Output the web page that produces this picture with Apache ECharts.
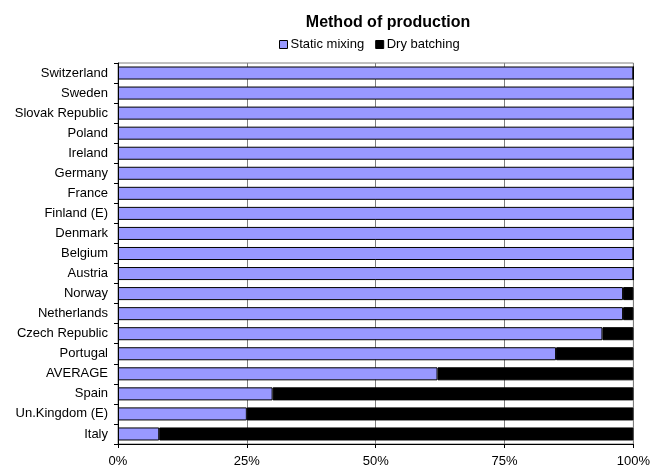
<!DOCTYPE html>
<html><head><meta charset="utf-8">
<script src="https://cdn.jsdelivr.net/npm/echarts@6/dist/echarts.min.js"></script>
<style>html,body{margin:0;padding:0;background:#fff}#c{width:653px;height:468px}</style>
</head><body><div id="c"></div>
<script>
var categories = ["Switzerland","Sweden","Slovak Republic","Poland","Ireland","Germany","France","Finland (E)","Denmark","Belgium","Austria","Norway","Netherlands","Czech Republic","Portugal","AVERAGE","Spain","Un.Kingdom (E)","Italy"];
var staticMixing = [100,100,100,100,100,100,100,100,100,100,100,98,98,94,85,62,30,25,8];
var dryBatching = [0,0,0,0,0,0,0,0,0,0,0,2,2,6,15,38,70,75,92];
var xTicks = [0,25,50,75,100];

var chart = echarts.init(document.getElementById('c'));
var font = 'Liberation Sans, Arial, sans-serif';
chart.setOption({
  animation:false,
  backgroundColor:'#fff',
  title:{text:'Method of production',left:383,top:10,textAlign:'center',
    textStyle:{fontFamily:font,fontSize:16,fontWeight:'bold',color:'#000'}},
  legend:{left:274,top:33,itemWidth:8,itemHeight:8,itemGap:11,icon:'rect',
    textStyle:{fontFamily:font,fontSize:13,color:'#000',padding:[0,0,0,-2]},
    data:[{name:'Static mixing',itemStyle:{borderColor:'#000',borderWidth:1}},{name:'Dry batching',itemStyle:{borderColor:'#000',borderWidth:1}}]},
  grid:{left:118,right:16,top:63,bottom:24,containLabel:false,show:true,borderColor:'#808080',borderWidth:1,backgroundColor:'transparent'},
  xAxis:{type:'value',min:xTicks[0],max:xTicks[xTicks.length-1],interval:25,
    axisLine:{show:true,lineStyle:{color:'#000'}},
    axisTick:{show:true,length:4,lineStyle:{color:'#000'}},
    axisLabel:{formatter:'{value}%',fontFamily:font,fontSize:13,color:'#000',margin:11},
    splitLine:{show:true,lineStyle:{color:'#808080',width:1}}},
  yAxis:{type:'category',data:categories,inverse:true,
    axisLine:{show:true,lineStyle:{color:'#000'}},
    axisTick:{show:true,length:4,lineStyle:{color:'#000'}},
    axisLabel:{fontFamily:font,fontSize:13,color:'#000',margin:10}},
  series:[
    {name:'Static mixing',type:'bar',stack:'a',data:staticMixing,barCategoryGap:'35%',
      itemStyle:{color:'#9999FF',borderColor:'#000',borderWidth:1}},
    {name:'Dry batching',type:'bar',stack:'a',data:dryBatching,barCategoryGap:'35%',
      itemStyle:{color:'#000',borderColor:'#000',borderWidth:1}}
  ]
});
</script></body></html>
